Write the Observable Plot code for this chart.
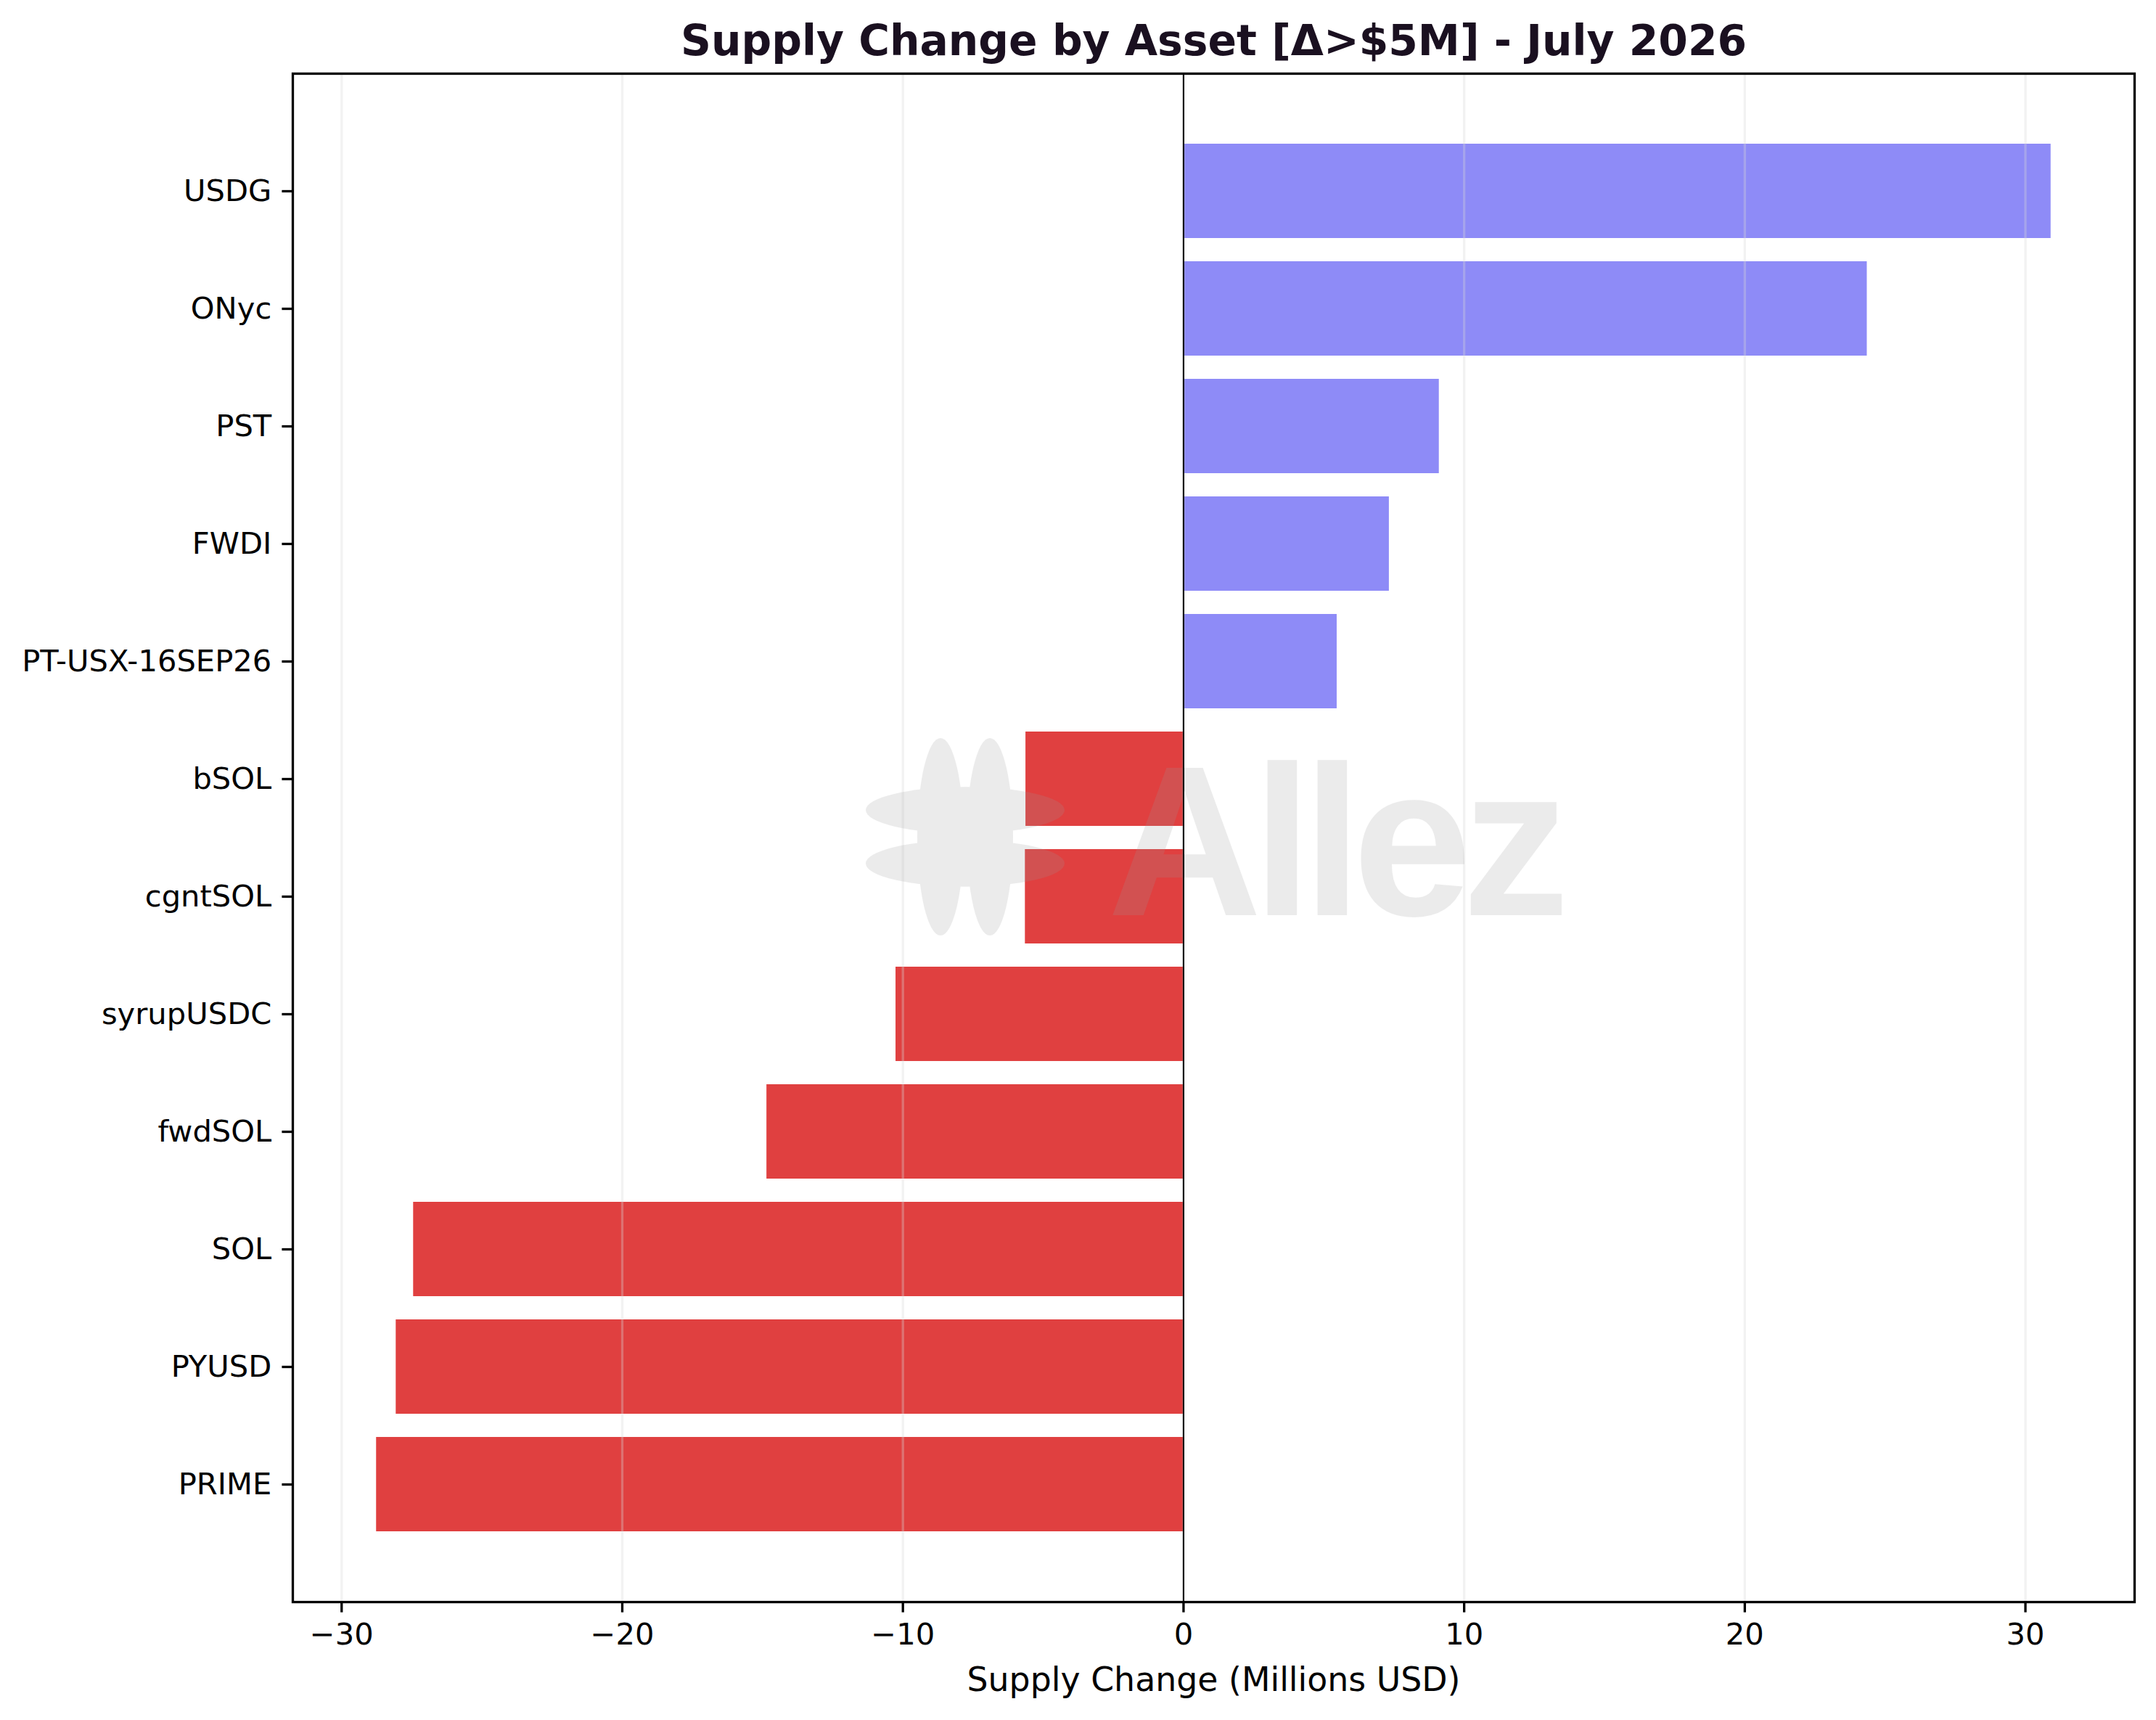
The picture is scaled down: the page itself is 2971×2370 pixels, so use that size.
<!DOCTYPE html>
<html>
<head>
<meta charset="utf-8">
<script src="https://cdn.jsdelivr.net/npm/d3@7"></script>
<script src="https://cdn.jsdelivr.net/npm/@observablehq/plot@0.6"></script>
<style>
  html, body { margin: 0; padding: 0; background: #ffffff; overflow: hidden; }
  #chart svg { display: block; }
</style>
</head>
<body>
<div id="chart"></div>
<script>
// ---- data ----
const assets = ["USDG", "ONyc", "PST", "FWDI", "PT-USX-16SEP26", "bSOL", "cgntSOL", "syrupUSDC", "fwdSOL", "SOL", "PYUSD", "PRIME"];
const changes = [30.91, 24.36, 9.11, 7.33, 5.47, -5.62, -5.64, -10.25, -14.85, -27.44, -28.06, -28.76];
const xTicks = [-30, -20, -10, 0, 10, 20, 30];
const xDomain = [-31.74, 33.89];
const titleText = "Supply Change by Asset [Δ>$5M] - July 2026";
const xLabelText = "Supply Change (Millions USD)";
const watermarkText = "Allez";

const posColor = "#8e8bf7";
const negColor = "#e04040";

const rows = assets.map((a, i) => ({asset: a, value: changes[i]}));

// watermark (decorative): drawn relative to the plot frame centre
function watermark(index, scales, values, dimensions) {
  const d = dimensions || {width: 2971, height: 2370, marginLeft: 403, marginRight: 30, marginTop: 101, marginBottom: 163};
  const cx = d.marginLeft + (d.width - d.marginLeft - d.marginRight) / 2;
  const cy = d.marginTop + (d.height - d.marginTop - d.marginBottom) / 2;
  const g = d3.create("svg:g").attr("opacity", 0.19).attr("fill", "#9a9a9a");
  const lx = cx - 342, ly = cy - 1;
  const off = 34, len = 136, half = 32;
  [-off, off].forEach(o => {
    g.append("ellipse").attr("cx", lx + o).attr("cy", ly).attr("rx", half).attr("ry", len);
  });
  [-off - 2.7, off + 2.7].forEach(o => {
    g.append("ellipse").attr("cx", lx).attr("cy", ly + o).attr("rx", len + 1).attr("ry", half);
  });
  g.append("circle").attr("cx", lx).attr("cy", ly).attr("r", 40);
  g.append("text")
    .attr("x", cx - 146)
    .attr("y", cy + 107)
    .attr("text-anchor", "start")
    .attr("font-family", "'Liberation Sans', Arial, sans-serif")
    .attr("font-weight", "bold")
    .attr("font-size", 295)
    .style("letter-spacing", "-13px")
    .text(watermarkText);
  return g.node();
}

const chart = Plot.plot({
  width: 2971,
  height: 2370,
  marginLeft: 403,
  marginRight: 30,
  marginTop: 101,
  marginBottom: 163,
  style: {fontFamily: "'DejaVu Sans', sans-serif", fontSize: "41.67px", background: "#ffffff", color: "#000000"},
  x: {domain: xDomain, label: null},
  y: {domain: assets, paddingInner: 0.2, paddingOuter: 0.59, align: 0.5, label: null},
  marks: [
    Plot.barX(rows, {filter: d => d.value >= 0, x: "value", y: "asset", fill: posColor}),
    Plot.barX(rows, {filter: d => d.value < 0, x: "value", y: "asset", fill: negColor}),
    Plot.gridX(xTicks, {stroke: "#d8d8d8", strokeOpacity: 0.33, strokeWidth: 3.3}),
    watermark,
    Plot.ruleX([0], {stroke: "#000000", strokeWidth: 2.1}),
    Plot.axisX({ticks: xTicks, tickFormat: d3.format("d"), tickSize: 14.6, tickPadding: 14.6, fontSize: 41.67, strokeWidth: 3.3, label: null}),
    Plot.axisY({tickSize: 14.6, tickPadding: 14.6, fontSize: 41.67, strokeWidth: 3.3, label: null}),
    Plot.frame({stroke: "#000000", strokeWidth: 3.3}),
    Plot.text([titleText], {text: d => d, frameAnchor: "top", dy: -44.1, fontSize: 58.3, fontWeight: "bold", fill: "#1a1020", lineAnchor: "middle"}),
    Plot.text([xLabelText], {text: d => d, frameAnchor: "bottom", dy: 108.3, fontSize: 45.8, fill: "#000000", lineAnchor: "middle"})
  ]
});

document.getElementById("chart").appendChild(chart);
</script>
</body>
</html>
